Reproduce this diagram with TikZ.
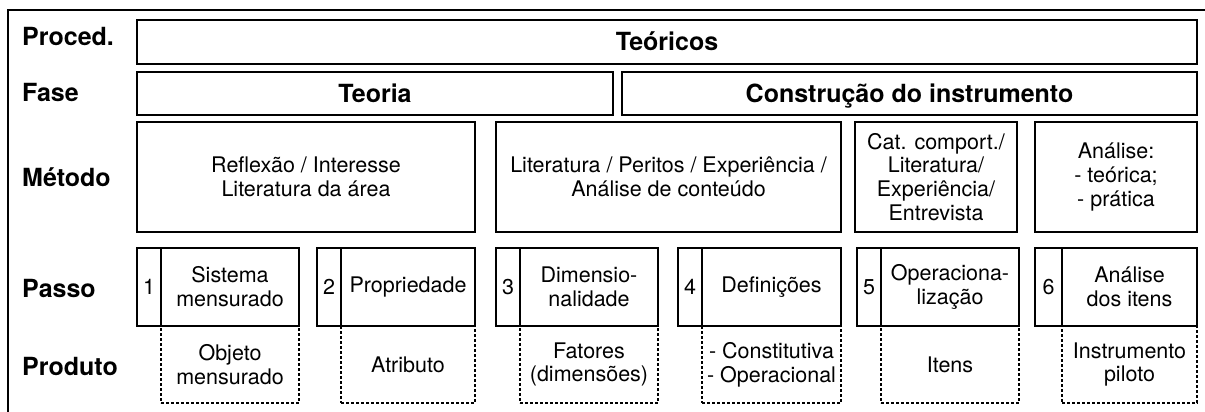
\documentclass[tikz,border=0pt]{standalone}
\usepackage{fontspec}
\setmainfont{TeX Gyre Heros}
\usetikzlibrary{positioning}
\tikzstyle{rowlabel}=[anchor=base west,inner sep=0pt,font=\fontsize{25}{28}\selectfont\bfseries]
\tikzstyle{hdrbox}=[draw,line width=1.6pt,inner sep=0pt,outer sep=0pt,text height=18pt,text depth=0pt,font=\fontsize{25}{28}\selectfont\bfseries]
\tikzstyle{metbox}=[draw,line width=1.6pt,inner sep=0pt,outer sep=0pt,minimum height=110pt,align=center,font=\fontsize{21.5}{23.8}\selectfont]
\tikzstyle{numbox}=[draw,line width=1.5pt,inner sep=0pt,outer sep=0pt,minimum height=78pt,font=\fontsize{21.5}{23.8}\selectfont]
\tikzstyle{stepbox}=[draw,line width=1.5pt,inner sep=0pt,outer sep=0pt,minimum height=78pt,align=center,font=\fontsize{21.5}{23.8}\selectfont]
\tikzstyle{prodbox}=[draw,line width=1.3pt,dash pattern=on 3pt off 2pt,inner sep=0pt,outer sep=0pt,minimum height=77pt,align=center,font=\fontsize{21.5}{23.8}\selectfont]
\begin{document}
\begin{tikzpicture}[x=1pt,y=-1pt]
    \useasboundingbox (0,0) rectangle (1205,412);
    \clip (0,0) rectangle (1205,412);
    % outer frame (cut at right and bottom)
    \draw[line width=1.3pt] (8,430) -- (8,10) -- (1230,10);

    % row labels
    \foreach \pos/\name/\txt in {{(22,46)/lproced/Proced.},{(22,102)/lfase/Fase},{(22,186)/lmetodo/Método},{(22,297)/lpasso/Passo},{(22,375)/lproduto/Produto}}
        \node[rowlabel] (\name) at \pos {\txt};

    % procedimento and fases
    \node[hdrbox,minimum width=1060pt,minimum height=44pt] (teoricos) at (667,42) {Teóricos};
    \node[hdrbox,minimum width=476pt,minimum height=43pt] (teoria) at (375,93.5) {Teoria};
    \node[hdrbox,minimum width=575pt,minimum height=43pt] (construcao) at (909.5,93.5) {Construção do instrumento};

    % metodos
    \node[metbox,minimum width=338pt] (met1) at (306,177) {Reflexão / Interesse\\Literatura da área};
    \node[metbox,minimum width=345pt] (met2) at (668.5,177) {Literatura / Peritos / Experiência /\\Análise de conteúdo};
    \node[metbox,minimum width=162pt] (met3) at (936,177) {Cat. comport./\\Literatura/\\Experiência/\\Entrevista};
    \node[metbox,minimum width=162pt] (met4) at (1116,177) {Análise:\\- teórica;\\- prática};

    % passos and produtos
    \foreach \i/\xl/\xd/\xr/\passo/\prod in {
        1/137/161/299/{Sistema\\mensurado}/{Objeto\\mensurado},
        2/317/341/475/{Propriedade}/{Atributo},
        3/496/520/658/{Dimensio-\\nalidade}/{Fatores\\(dimensões)},
        4/678/702/841/{Definições}/{- Constitutiva\\- Operacional},
        5/857/881/1019/{Operaciona-\\lização}/{Itens},
        6/1035/1062/1197/{Análise\\dos itens}/{Instrumento\\piloto}}
    {
        \node[prodbox,minimum width={(\xr-\xd)*1pt}] (prod\i) at ({(\xd+\xr)/2},364.5) {\prod};
        \node[numbox,minimum width={(\xd-\xl)*1pt}] (num\i) at ({(\xl+\xd)/2},287) {\i};
        \node[stepbox,minimum width={(\xr-\xd)*1pt}] (passo\i) at ({(\xd+\xr)/2},287) {\passo};
    }
\end{tikzpicture}
\end{document}
